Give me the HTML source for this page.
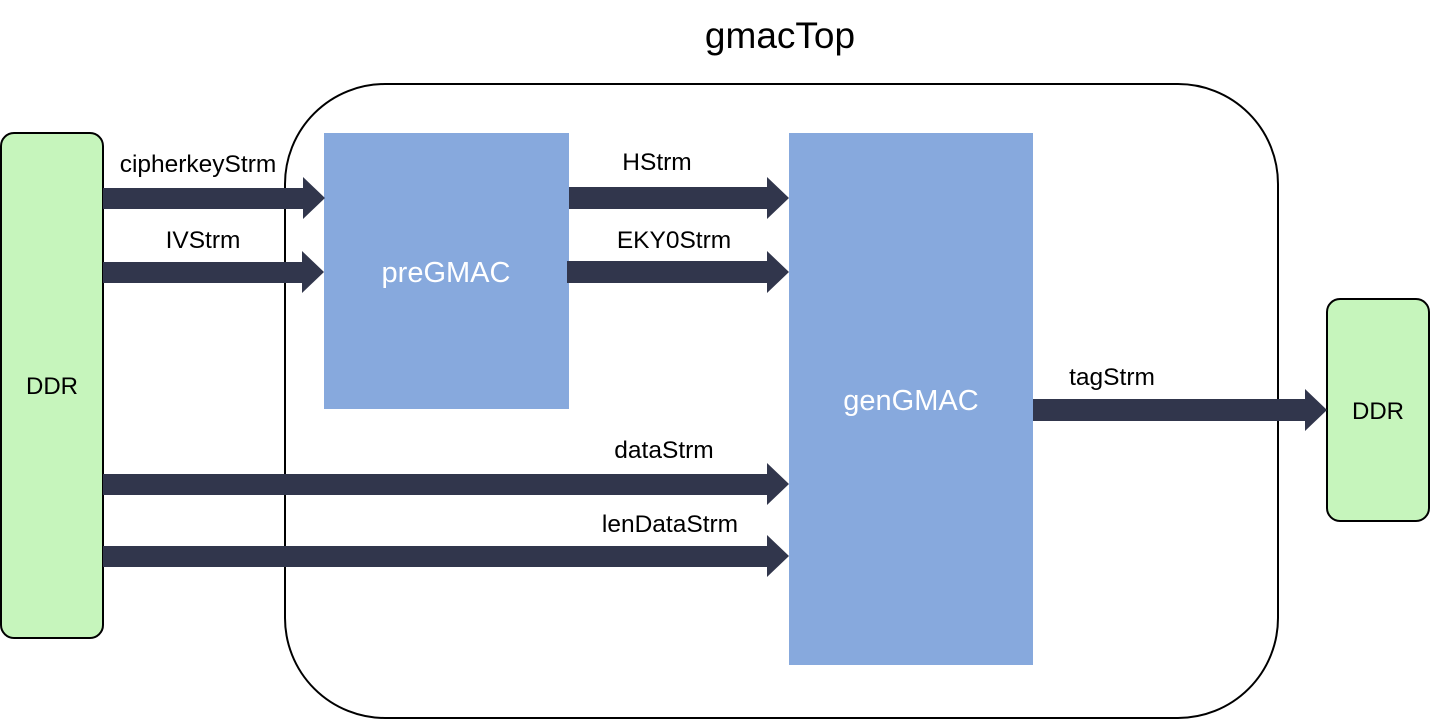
<!DOCTYPE html>
<html><head><style>html,body{margin:0;padding:0;background:#fff;}svg{display:block}</style></head><body>
<svg width="1430" height="720" xmlns="http://www.w3.org/2000/svg" font-family="Liberation Sans, Arial, sans-serif">
<text x="780" y="48" font-size="37" text-anchor="middle">gmacTop</text>
<rect x="285" y="84" width="993" height="634" rx="100" ry="100" fill="#fff" stroke="#000" stroke-width="2"/>
<rect x="1" y="133" width="102" height="505" rx="13" fill="#c6f5bc" stroke="#000" stroke-width="2"/>
<text x="52" y="394" font-size="24" text-anchor="middle">DDR</text>
<rect x="1327" y="299" width="102" height="222" rx="13" fill="#c6f5bc" stroke="#000" stroke-width="2"/>
<text x="1378" y="419" font-size="24" text-anchor="middle">DDR</text>
<rect x="324" y="133" width="245" height="276" fill="#87a9dd"/>
<text x="446" y="282" font-size="29" fill="#fff" text-anchor="middle">preGMAC</text>
<rect x="789" y="133" width="244" height="532" fill="#87a9dd"/>
<text x="911" y="410" font-size="29" fill="#fff" text-anchor="middle">genGMAC</text>
<g fill="#31364c">
<polygon points="103,188 303,188 303,177 325,198 303,219 303,209 103,209"/>
<polygon points="103,262 302,262 302,251 324,272 302,293 302,283 103,283"/>
<polygon points="569,187 767,187 767,177 789,198 767,219 767,209 569,209"/>
<polygon points="567,261 767,261 767,251 789,272 767,293 767,283 567,283"/>
<polygon points="103,474 767,474 767,463 789,484 767,505 767,495 103,495"/>
<polygon points="103,546 767,546 767,535 789,556 767,577 767,567 103,567"/>
<polygon points="1033,399 1305,399 1305,389 1327,410 1305,431 1305,421 1033,421"/>
</g>
<g font-size="24.5" text-anchor="middle">
<text x="198" y="172">cipherkeyStrm</text>
<text x="203" y="248">IVStrm</text>
<text x="657" y="170">HStrm</text>
<text x="674" y="248">EKY0Strm</text>
<text x="664" y="458">dataStrm</text>
<text x="670" y="532">lenDataStrm</text>
<text x="1112" y="385">tagStrm</text>
</g>
</svg>
</body></html>
